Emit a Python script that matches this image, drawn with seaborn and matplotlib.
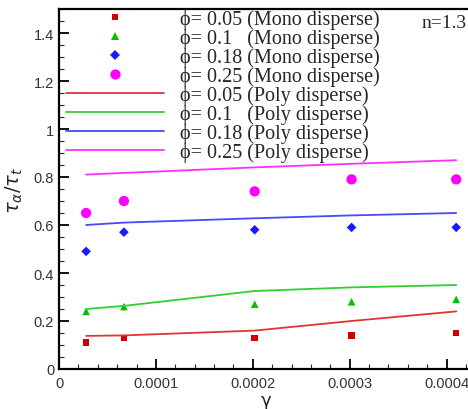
import numpy as np
import pandas as pd
import matplotlib
matplotlib.use("Agg")
import matplotlib.pyplot as plt
import seaborn as sns
from matplotlib.lines import Line2D
from matplotlib.ticker import MultipleLocator, FixedLocator, FixedFormatter

# gamma values (shared by all series)
gamma = [2.8e-5, 6.7e-5, 2.02e-4, 3.02e-4, 4.1e-4]

phi_labels = ["0.05", "0.1", "0.18", "0.25"]

# Mono disperse (markers)
mono_005 = [0.11, 0.13, 0.13, 0.14, 0.15]
mono_010 = [0.24, 0.26, 0.27, 0.28, 0.29]
mono_018 = [0.49, 0.57, 0.58, 0.59, 0.59]
mono_025 = [0.65, 0.70, 0.74, 0.79, 0.79]

# Poly disperse (lines)
poly_005 = [0.138, 0.14, 0.16, 0.20, 0.24]
poly_010 = [0.25, 0.263, 0.325, 0.34, 0.35]
poly_018 = [0.60, 0.61, 0.628, 0.64, 0.65]
poly_025 = [0.81, 0.817, 0.84, 0.855, 0.87]

mono = [mono_005, mono_010, mono_018, mono_025]
poly = [poly_005, poly_010, poly_018, poly_025]

marker_colors = ["#d00000", "#00c000", "#1a1aff", "#ff00ff"]
line_colors = ["#e03535", "#30d030", "#4848ff", "#ff30ff"]
markers = ["s", "^", "D", "o"]
sizes = [22, 30, 24, 55]

sns.set_theme(style="ticks")
plt.rcParams["font.family"] = ["Liberation Sans", "DejaVu Sans"]
plt.rcParams["mathtext.fontset"] = "dejavusans"

fig = plt.figure(figsize=(4.68, 4.10), dpi=100)
ax = fig.add_axes([59 / 468, 40 / 410, (468 - 59) / 468 + 0.01, 360 / 410])

serif = ["Liberation Serif", "DejaVu Serif"]

handles = []
labels = []
for i in range(4):
    df = pd.DataFrame({"gamma": gamma, "tau": mono[i]})
    sns.scatterplot(data=df, x="gamma", y="tau", marker=markers[i], s=sizes[i],
                    color=marker_colors[i], edgecolor="none", ax=ax)
    pad = " " * (3 if len(phi_labels[i]) == 3 else 1)
    labels.append("ϕ= " + phi_labels[i] + pad + "(Mono disperse)")
for i in range(4):
    df = pd.DataFrame({"gamma": gamma, "tau": poly[i]})
    sns.lineplot(data=df, x="gamma", y="tau", color=line_colors[i], lw=1.3, ax=ax)
    pad = " " * (3 if len(phi_labels[i]) == 3 else 1)
    labels.append("ϕ= " + phi_labels[i] + pad + "(Poly disperse)")

for i in range(4):
    handles.append(Line2D([], [], ls="none", marker=markers[i], color=marker_colors[i],
                          markersize=np.sqrt(sizes[i]), markeredgewidth=0))
for i in range(4):
    handles.append(Line2D([], [], color=line_colors[i], lw=1.3))

leg = ax.legend(handles, labels, loc="upper left", bbox_to_anchor=(0.012, 1.005),
                frameon=False, prop={"family": serif, "size": 14.5},
                handlelength=4.85, handletextpad=0.8, labelspacing=-0.05,
                borderpad=0.1, borderaxespad=0)

ax.text(0.985, 0.985, "n=1.3", transform=ax.transAxes, ha="right", va="top",
        fontsize=14, family=serif)

ax.set_xlim(0, 4.27e-4)
ax.set_ylim(0, 1.5)

xt = [0, 1e-4, 2e-4, 3e-4, 4e-4]
ax.xaxis.set_major_locator(FixedLocator(xt))
ax.xaxis.set_major_formatter(FixedFormatter(["0", "0.0001", "0.0002", "0.0003", "0.0004"]))
ax.xaxis.set_minor_locator(MultipleLocator(2e-5))
ax.yaxis.set_major_locator(FixedLocator([0, 0.2, 0.4, 0.6, 0.8, 1.0, 1.2, 1.4]))
ax.yaxis.set_major_formatter(FixedFormatter(["0", "0.2", "0.4", "0.6", "0.8", "1", "1.2", "1.4"]))
ax.yaxis.set_minor_locator(MultipleLocator(0.05))

ax.tick_params(which="major", direction="in", length=7, width=1.3, labelsize=10.5,
               colors="black", labelcolor="#333333", top=False, right=False)
ax.tick_params(which="minor", direction="in", length=3.5, width=0.8, top=False, right=False)
ax.tick_params(axis="x", pad=5)

for s in ["left", "bottom", "top"]:
    ax.spines[s].set_linewidth(1.6)
    ax.spines[s].set_color("black")
ax.spines["right"].set_visible(False)

ax.set_xlabel("γ", fontsize=13, family=["DejaVu Sans"], labelpad=1)
ax.set_ylabel(r"$\tau_\alpha/\tau_t$", fontsize=14, labelpad=6)

fig.savefig("out.png", dpi=100)
plt.close(fig)
